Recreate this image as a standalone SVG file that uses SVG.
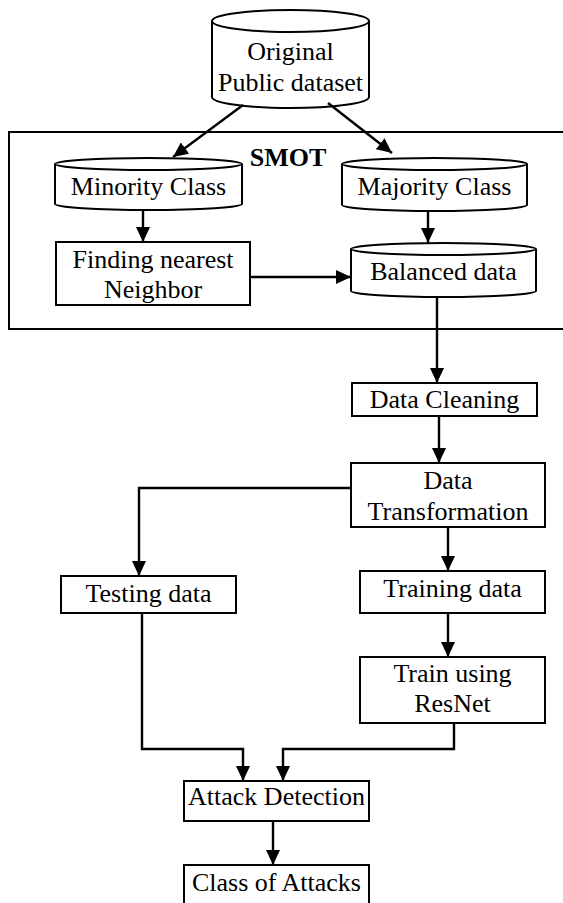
<svg xmlns="http://www.w3.org/2000/svg" width="563" height="903" viewBox="0 0 563 903">
<style>
.box{fill:#fff;stroke:#000;stroke-width:2}
.cyl{fill:#fff;stroke:#000;stroke-width:2}
.t{font-family:"Liberation Serif","Times New Roman",serif;font-size:26px;fill:#000;text-anchor:middle}
.b{font-weight:bold}
.c{fill:none;stroke:#000;stroke-width:2.4}
</style>
<defs>
<marker id="ah" markerUnits="userSpaceOnUse" markerWidth="16" markerHeight="14" refX="15" refY="7" orient="auto">
<path d="M0,0 L15,7 L0,14 Z" fill="#000"/>
</marker>
</defs>
<rect width="563" height="903" fill="#fff"/>
<g id="smot">
<rect x="9" y="132" width="570" height="197" fill="none" stroke="#000" stroke-width="2"/>
<text class="t b" x="288" y="166">SMOT</text>
</g>
<g id="original">
<path class="cyl" d="M212,21 A78.5,11 0 0 1 369,21 L369,97 A78.5,11 0 0 1 212,97 Z"/>
<path class="cyl" d="M212,21 A78.5,11 0 0 0 369,21" fill="none"/>
<text class="t" x="290.5" y="60">Original</text>
<text class="t" x="290.5" y="91">Public dataset</text>
</g>
<g id="minority">
<path class="cyl" d="M55,164 A93.5,6 0 0 1 242,164 L242,204 A93.5,6 0 0 1 55,204 Z"/>
<path class="cyl" d="M55,164 A93.5,6 0 0 0 242,164" fill="none"/>
<text class="t" x="148.5" y="195">Minority Class</text>
</g>
<g id="majority">
<path class="cyl" d="M342,164 A92.5,6 0 0 1 527,164 L527,205 A92.5,6 0 0 1 342,205 Z"/>
<path class="cyl" d="M342,164 A92.5,6 0 0 0 527,164" fill="none"/>
<text class="t" x="434.5" y="195">Majority Class</text>
</g>
<g id="finding">
<rect class="box" x="56" y="242" width="194" height="63"/>
<text class="t" x="153" y="268">Finding nearest</text>
<text class="t" x="153" y="298">Neighbor</text>
</g>
<g id="balanced">
<path class="cyl" d="M351,249 A92.5,6 0 0 1 536,249 L536,291 A92.5,6 0 0 1 351,291 Z"/>
<path class="cyl" d="M351,249 A92.5,6 0 0 0 536,249" fill="none"/>
<text class="t" x="443.5" y="280">Balanced data</text>
</g>
<g id="cleaning">
<rect class="box" x="352" y="383" width="185" height="33"/>
<text class="t" x="444.5" y="408">Data Cleaning</text>
</g>
<g id="transformation">
<rect class="box" x="351" y="463" width="194" height="64"/>
<text class="t" x="448" y="489">Data</text>
<text class="t" x="448" y="520">Transformation</text>
</g>
<g id="testing">
<rect class="box" x="61" y="576" width="175" height="37"/>
<text class="t" x="148.5" y="602">Testing data</text>
</g>
<g id="training">
<rect class="box" x="360" y="571" width="185" height="42"/>
<text class="t" x="452.5" y="597">Training data</text>
</g>
<g id="resnet">
<rect class="box" x="360" y="657" width="185" height="66"/>
<text class="t" x="452.5" y="682">Train using</text>
<text class="t" x="452.5" y="712">ResNet</text>
</g>
<g id="detection">
<rect class="box" x="184" y="781" width="185" height="40"/>
<text class="t" x="276.5" y="805">Attack Detection</text>
</g>
<g id="classes">
<rect class="box" x="184" y="865" width="185" height="50"/>
<text class="t" x="276.5" y="891">Class of Attacks</text>
</g>
<g id="connectors">
<path class="c" d="M243,105 L173,157" marker-end="url(#ah)"/>
<path class="c" d="M328,103 L392,153" marker-end="url(#ah)"/>
<path class="c" d="M143,210 L143,242" marker-end="url(#ah)"/>
<path class="c" d="M428,212 L428,243" marker-end="url(#ah)"/>
<path class="c" d="M250,277 L351,277" marker-end="url(#ah)"/>
<path class="c" d="M437,297 L437,383" marker-end="url(#ah)"/>
<path class="c" d="M439,416 L439,463" marker-end="url(#ah)"/>
<path class="c" d="M351,488 L139,488 L139,576" marker-end="url(#ah)"/>
<path class="c" d="M448,527 L448,571" marker-end="url(#ah)"/>
<path class="c" d="M448,613 L448,657" marker-end="url(#ah)"/>
<path class="c" d="M142,613 L142,749 L243,749 L243,781" marker-end="url(#ah)"/>
<path class="c" d="M454,723 L454,749 L283,749 L283,781" marker-end="url(#ah)"/>
<path class="c" d="M273,821 L273,865" marker-end="url(#ah)"/>
</g>
</svg>
